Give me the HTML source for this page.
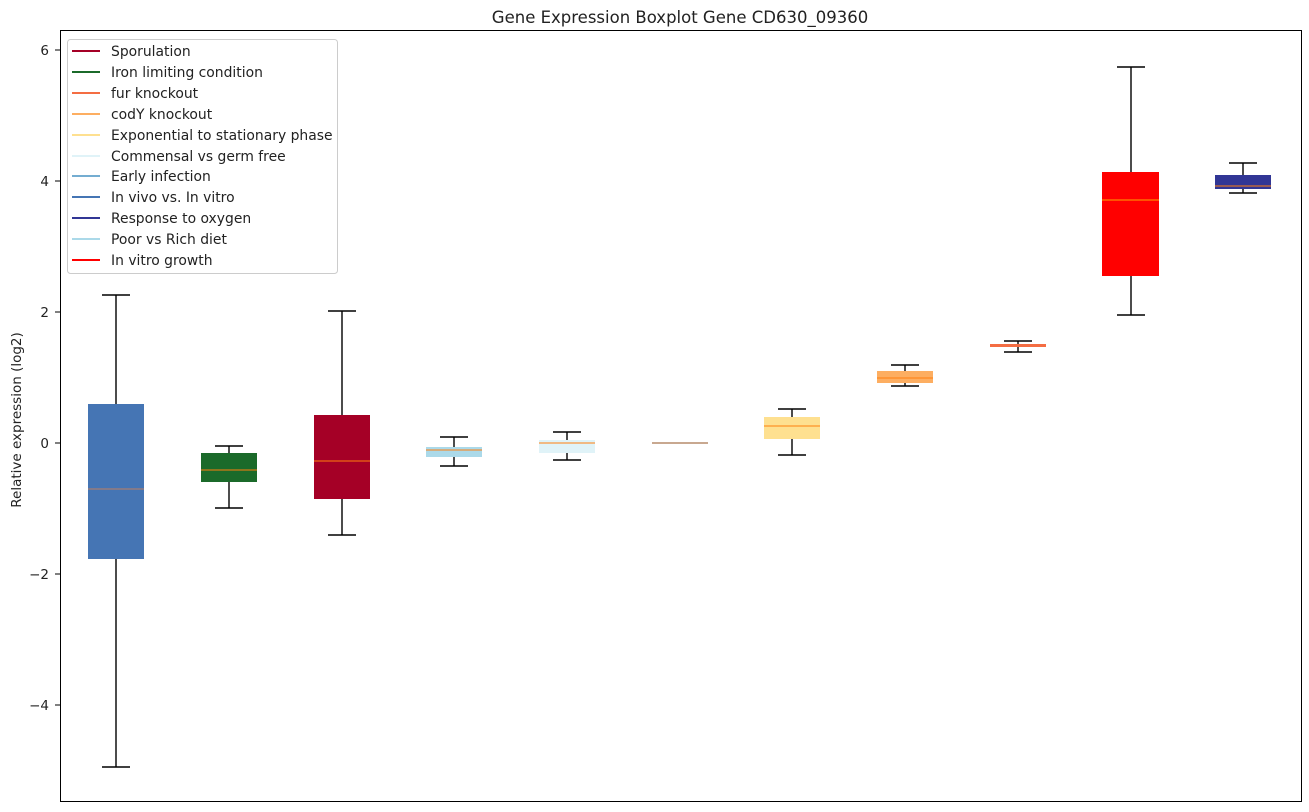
<!DOCTYPE html>
<html><head><meta charset="utf-8"><style>body{margin:0;background:#fff}svg{display:block}text{font-family:"DejaVu Sans","Liberation Sans",sans-serif;fill:#222}</style></head><body>
<svg width="1309" height="812" xmlns="http://www.w3.org/2000/svg">
<rect width="1309" height="812" fill="#fff"/>
<text x="680" y="23" font-size="16.5" text-anchor="middle">Gene Expression Boxplot Gene CD630_09360</text>
<text transform="translate(21,420) rotate(-90)" font-size="13.5" text-anchor="middle">Relative expression (log2)</text>
<g font-size="13.5" text-anchor="end" stroke="none">
<text x="49" y="55">6</text><text x="49" y="186">4</text><text x="49" y="317">2</text><text x="49" y="448">0</text><text x="49" y="579">−2</text><text x="49" y="710">−4</text>
</g>
<g stroke="#000" stroke-width="1"><line x1="55" y1="50" x2="60" y2="50"/><line x1="55" y1="181" x2="60" y2="181"/><line x1="55" y1="312" x2="60" y2="312"/><line x1="55" y1="443" x2="60" y2="443"/><line x1="55" y1="574" x2="60" y2="574"/><line x1="55" y1="705" x2="60" y2="705"/></g>
<g stroke="#000" stroke-width="1.4" fill="none">
<line x1="116" y1="295" x2="116" y2="767"/><line x1="102" y1="295" x2="130" y2="295"/><line x1="102" y1="767" x2="130" y2="767"/>
<line x1="229" y1="446" x2="229" y2="508"/><line x1="215" y1="446" x2="243" y2="446"/><line x1="215" y1="508" x2="243" y2="508"/>
<line x1="342" y1="311" x2="342" y2="535"/><line x1="328" y1="311" x2="356" y2="311"/><line x1="328" y1="535" x2="356" y2="535"/>
<line x1="454" y1="437" x2="454" y2="466"/><line x1="440" y1="437" x2="468" y2="437"/><line x1="440" y1="466" x2="468" y2="466"/>
<line x1="567" y1="432" x2="567" y2="460"/><line x1="553" y1="432" x2="581" y2="432"/><line x1="553" y1="460" x2="581" y2="460"/>
<line x1="666" y1="443" x2="694" y2="443"/>
<line x1="792" y1="409" x2="792" y2="455"/><line x1="778" y1="409" x2="806" y2="409"/><line x1="778" y1="455" x2="806" y2="455"/>
<line x1="905" y1="365" x2="905" y2="386"/><line x1="891" y1="365" x2="919" y2="365"/><line x1="891" y1="386" x2="919" y2="386"/>
<line x1="1018" y1="341" x2="1018" y2="352"/><line x1="1004" y1="341" x2="1032" y2="341"/><line x1="1004" y1="352" x2="1032" y2="352"/>
<line x1="1131" y1="67" x2="1131" y2="315"/><line x1="1117" y1="67" x2="1145" y2="67"/><line x1="1117" y1="315" x2="1145" y2="315"/>
<line x1="1243" y1="163" x2="1243" y2="193"/><line x1="1229" y1="163" x2="1257" y2="163"/><line x1="1229" y1="193" x2="1257" y2="193"/>
</g>
<g stroke="none">
<rect x="88" y="404" width="56" height="155" fill="#4575b4"/>
<rect x="201" y="453" width="56" height="29" fill="#1b6a2a"/>
<rect x="314" y="415" width="56" height="84" fill="#a50026"/>
<rect x="426" y="447" width="56" height="10" fill="#abd9e9"/>
<rect x="539" y="440" width="56" height="13" fill="#e0f3f8"/>
<rect x="652" y="442" width="56" height="2" fill="#c8a890"/>
<rect x="764" y="417" width="56" height="22" fill="#fee090"/>
<rect x="877" y="371" width="56" height="12" fill="#fdae61"/>
<rect x="990" y="344" width="56" height="3" fill="#f46d43"/>
<rect x="1102" y="172" width="57" height="104" fill="#ff0000"/>
<rect x="1215" y="175" width="56" height="14" fill="#313695"/>
</g>
<g stroke="#ff7f0e" stroke-width="1">
<line x1="88" y1="489" x2="144" y2="489" stroke="#c08060"/>
<line x1="201" y1="470" x2="257" y2="470"/>
<line x1="314" y1="461" x2="370" y2="461"/>
<line x1="426" y1="450" x2="482" y2="450"/>
<line x1="539" y1="443" x2="595" y2="443"/>
<line x1="764" y1="426" x2="820" y2="426"/>
<line x1="877" y1="378" x2="933" y2="378"/>
<line x1="1102" y1="200" x2="1159" y2="200" stroke="#ffa500"/>
<line x1="1215" y1="186" x2="1271" y2="186"/>
</g>
<rect x="60.5" y="30.5" width="1241" height="771" fill="none" stroke="#000" stroke-width="1"/>
<rect x="67.5" y="39.5" width="270" height="234" rx="3" fill="#fff" fill-opacity="0.85" stroke="#ccc"/>
<g stroke-width="2">
<line x1="72" y1="51" x2="100" y2="51" stroke="#a50026"/>
<line x1="72" y1="72" x2="100" y2="72" stroke="#1b6a2a"/>
<line x1="72" y1="93" x2="100" y2="93" stroke="#f46d43"/>
<line x1="72" y1="114" x2="100" y2="114" stroke="#fdae61"/>
<line x1="72" y1="135" x2="100" y2="135" stroke="#fee090"/>
<line x1="72" y1="156" x2="100" y2="156" stroke="#e0f3f8"/>
<line x1="72" y1="176" x2="100" y2="176" stroke="#74add1"/>
<line x1="72" y1="197" x2="100" y2="197" stroke="#4575b4"/>
<line x1="72" y1="218" x2="100" y2="218" stroke="#313695"/>
<line x1="72" y1="239" x2="100" y2="239" stroke="#abd9e9"/>
<line x1="72" y1="260" x2="100" y2="260" stroke="#ff0000"/>
</g>
<g font-size="13.9">
<text x="111" y="56">Sporulation</text>
<text x="111" y="77">Iron limiting condition</text>
<text x="111" y="98">fur knockout</text>
<text x="111" y="119">codY knockout</text>
<text x="111" y="140">Exponential to stationary phase</text>
<text x="111" y="161">Commensal vs germ free</text>
<text x="111" y="181">Early infection</text>
<text x="111" y="202">In vivo vs. In vitro</text>
<text x="111" y="223">Response to oxygen</text>
<text x="111" y="244">Poor vs Rich diet</text>
<text x="111" y="265">In vitro growth</text>
</g>
</svg>
</body></html>
